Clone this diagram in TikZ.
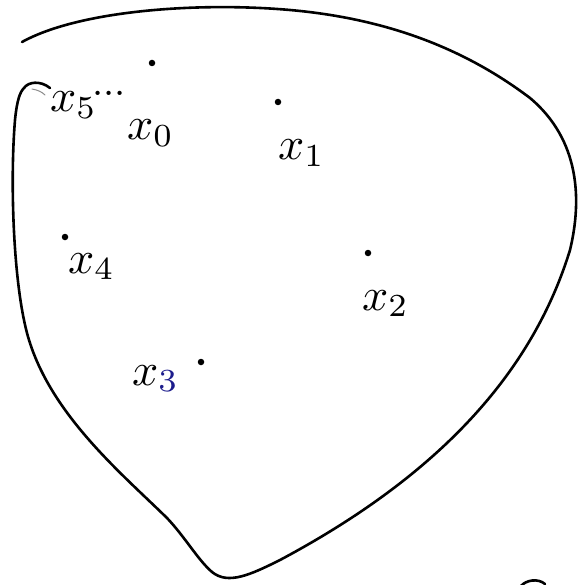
\documentclass[tikz,border=0pt]{standalone}
\usepackage{graphicx}
\usepackage{xcolor}
\definecolor{penblue}{HTML}{1C1C8C}
\newcommand{\biglbl}[1]{\scalebox{4.6}{#1}}
\begin{document}
\begin{tikzpicture}[x=1pt,y=-1pt,
  pen/.style={line width=2.6pt,line cap=round,line join=round,black},
  lbl/.style={anchor=base west,inner sep=0pt},
  pt/.style={circle,fill=black,inner sep=0pt,minimum size=6.5pt}]
\useasboundingbox (0,0) rectangle (581,585);
% outline of the region
\draw[pen] (22,42) .. controls (80,10) and (200,2) .. (290,10)
  .. controls (380,18) and (460,45) .. (530,98)
  .. controls (580,140) and (582,200) .. (570,250)
  .. controls (530,380) and (430,480) .. (280,560)
  .. controls (250,575) and (228,585) .. (212,572)
  .. controls (198,560) and (185,537) .. (167,518)
  .. controls (120,472) and (48,412) .. (27,333)
  .. controls (13,280) and (10,180) .. (15,120)
  .. controls (17,100) and (20,92) .. (24,88)
  .. controls (28,82) and (40,80) .. (50,88);
\draw[line width=1pt,black!45,line cap=round] (32,89) .. controls (38,90) and (42,92) .. (45,95);
% fragment at bottom right
\draw[pen] (521,586) .. controls (526,580) and (538,578) .. (545,584);
% points
\node[pt] (p5) at (152,63) {};
\node[pt] (p1) at (278,102) {};
\node[pt] (p4) at (65,237) {};
\node[pt] (p2) at (368,253) {};
\node[pt] (p3) at (201,362) {};
% labels
\node[lbl] (l5) at (50,112) {\biglbl{$x_5$}};
\node[lbl] (l5d) at (92,96) {\scalebox{4}{...}};
\node[lbl] (l0) at (127,140) {\biglbl{$x_0$}};
\node[lbl] (l1) at (278,160) {\biglbl{$x_1$}};
\node[lbl] (l4) at (68,273) {\biglbl{$x_4$}};
\node[lbl] (l2) at (362,310) {\biglbl{$x_2$}};
\node[lbl] (l3) at (132,385) {\biglbl{$x_{\color{penblue}3}$}};
\end{tikzpicture}
\end{document}
